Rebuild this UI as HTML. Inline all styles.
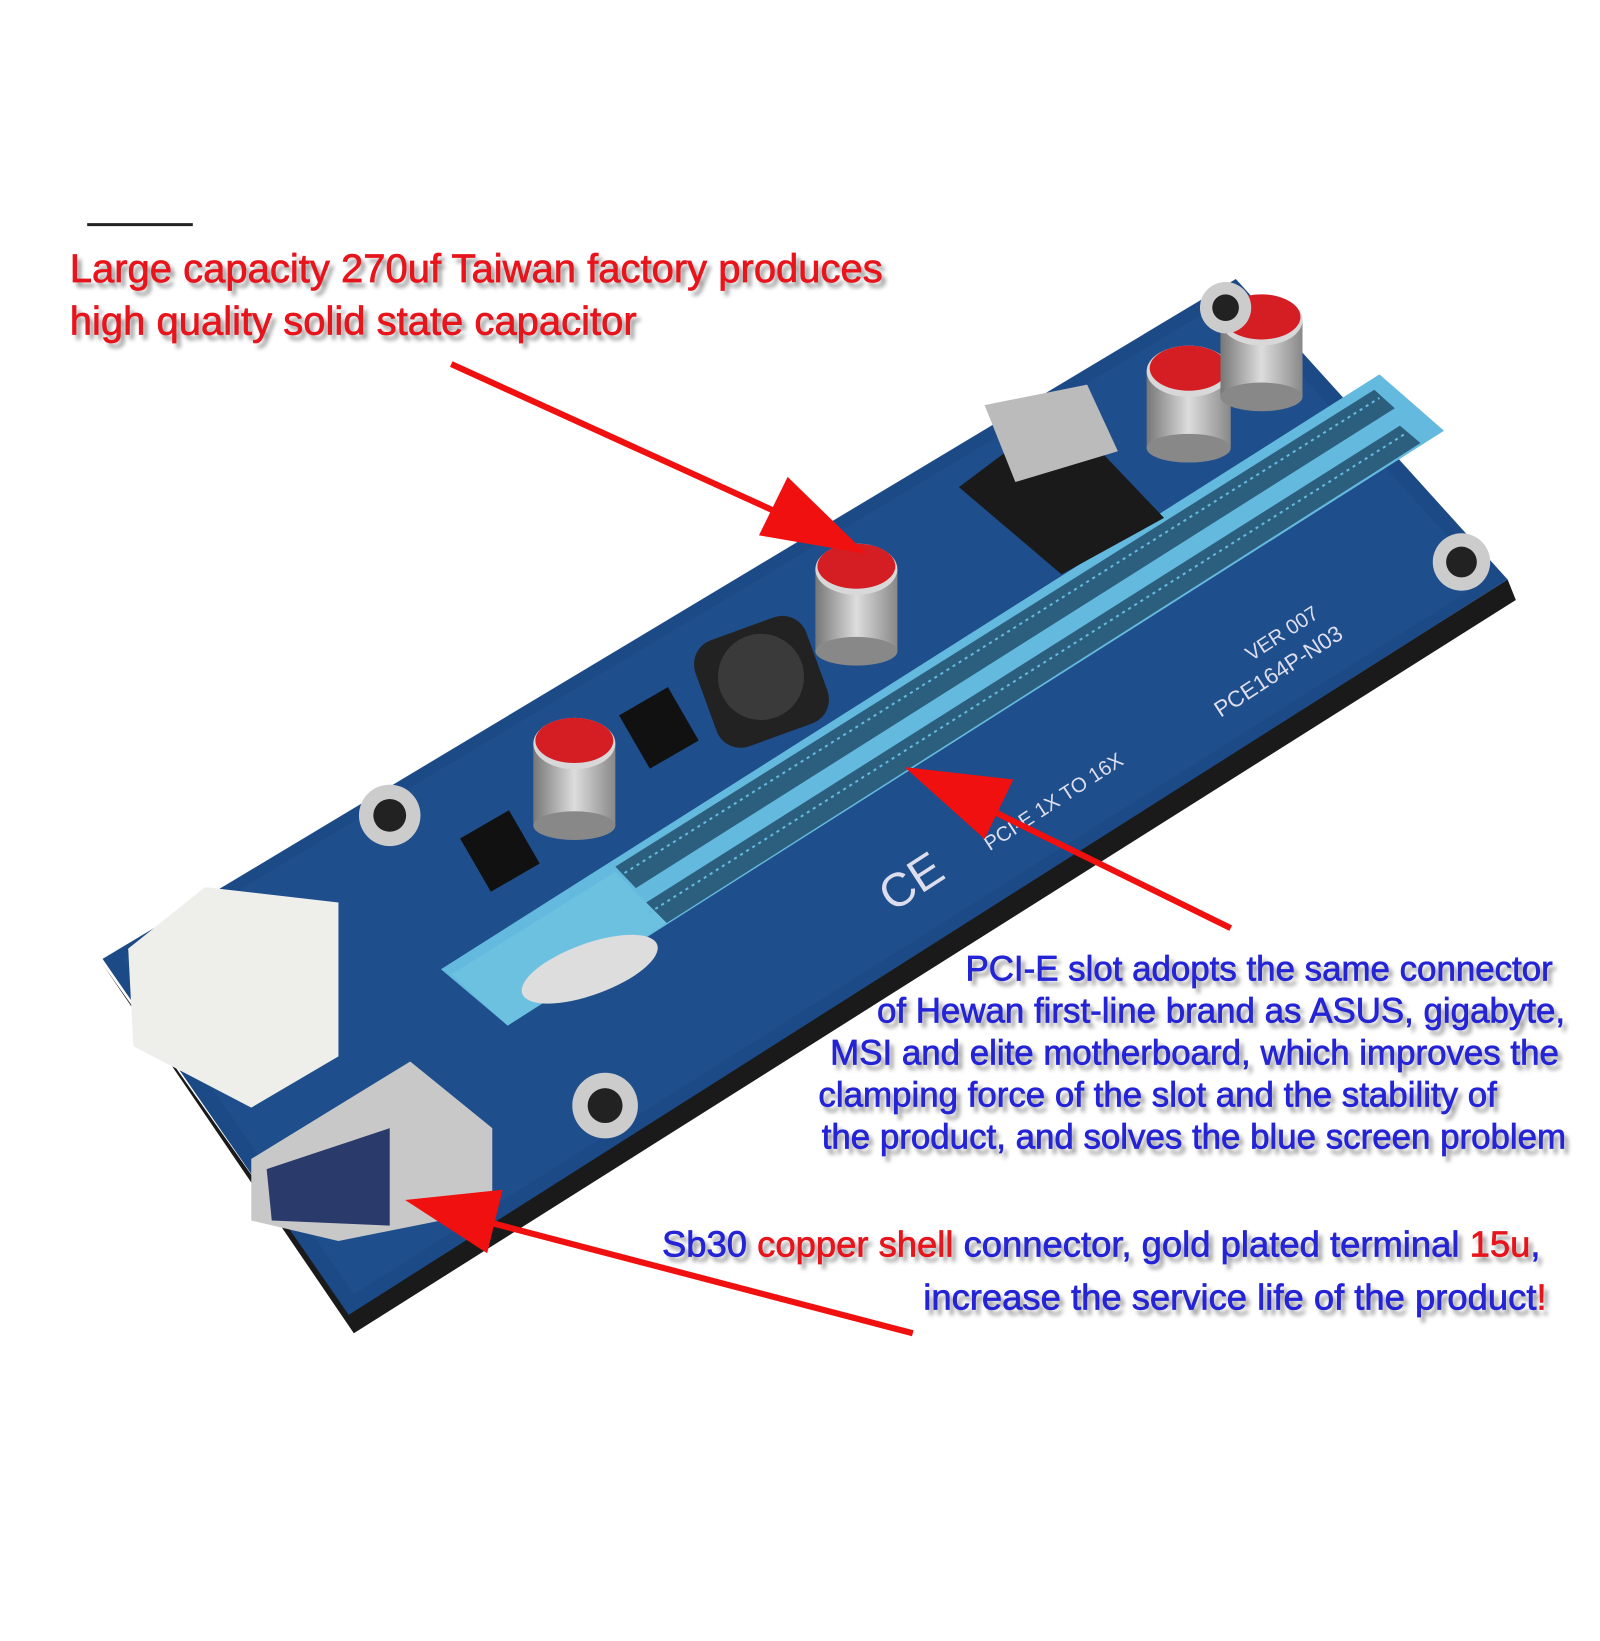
<!DOCTYPE html>
<html><head><meta charset="utf-8"><style>
html,body{margin:0;padding:0;background:#fff;}
body{width:1600px;height:1600px;position:relative;overflow:hidden;font-family:"Liberation Sans",sans-serif;}
#w{position:absolute;left:0;top:0;width:1600px;height:1600px;transform:scale(1.0256);transform-origin:0 0;}
.t{position:absolute;font-size:34px;line-height:1;white-space:nowrap;text-shadow:4px 5px 4px rgba(0,0,0,0.45);-webkit-text-stroke:0.7px currentColor;}
.r{color:#e8141c;}
.b{color:#2424d6;}
.big{font-size:39px;}
</style></head><body><div id="w">
<svg width="1600" height="1600" style="position:absolute;left:0;top:0">
<defs>
<linearGradient id="cap" x1="0" x2="1"><stop offset="0" stop-color="#777"/><stop offset="0.5" stop-color="#ddd"/><stop offset="1" stop-color="#888"/></linearGradient>
</defs>
<line x1="85" y1="219" x2="188" y2="219" stroke="#222" stroke-width="3"/>
<polygon points="100,940 345,1300 1478,585 1470,565 340,1280" fill="#1a1a1a"/>
<polygon points="100,935 1205,272 1470,565 340,1282" fill="#1c4a86"/>
<polygon points="120,935 1200,290 1450,565 345,1262" fill="#20518f" opacity="0.6"/>
<polygon points="430,945 1345,365 1408,420 495,1000" fill="#64bade"/>
<polygon points="600,845 1340,380 1360,398 620,866" fill="#2c5f7e"/>
<polygon points="630,880 1365,415 1385,432 650,900" fill="#2c5f7e"/>
<polygon points="440,950 600,850 650,900 495,1000" fill="#6cc0e0"/>
<g stroke="#64bade" stroke-width="2" stroke-dasharray="3 4">
<line x1="603" y1="855" x2="1345" y2="388"/>
<line x1="633" y1="890" x2="1370" y2="423"/>
</g>
<ellipse cx="575" cy="945" rx="70" ry="25" fill="#ddd" transform="rotate(-20 575 945)"/>
<polygon points="935,475 1035,400 1135,505 1035,560" fill="#1a1a1a"/>
<polygon points="960,395 1060,375 1090,440 990,470" fill="#bbb"/>
<rect x="685" y="610" width="115" height="110" rx="25" fill="#222" transform="rotate(-20 742 665)"/>
<circle cx="742" cy="660" r="42" fill="#3a3a3a"/>
<rect x="615" y="680" width="55" height="60" fill="#111" transform="rotate(-30 642 710)"/>
<rect x="460" y="800" width="55" height="60" fill="#111" transform="rotate(-30 487 830)"/>
<g>
<rect x="795" y="555" width="80" height="80" fill="url(#cap)"/><ellipse cx="835" cy="635" rx="40" ry="14" fill="#888"/><ellipse cx="835" cy="555" rx="40" ry="25" fill="#d8d8d8"/><ellipse cx="835" cy="552" rx="38" ry="22" fill="#d41e24"/>
<rect x="520" y="725" width="80" height="80" fill="url(#cap)"/><ellipse cx="560" cy="805" rx="40" ry="14" fill="#888"/><ellipse cx="560" cy="725" rx="40" ry="25" fill="#d8d8d8"/><ellipse cx="560" cy="722" rx="38" ry="22" fill="#d41e24"/>
<rect x="1118" y="362" width="82" height="75" fill="url(#cap)"/><ellipse cx="1159" cy="437" rx="41" ry="14" fill="#888"/><ellipse cx="1159" cy="362" rx="41" ry="25" fill="#d8d8d8"/><ellipse cx="1159" cy="359" rx="38" ry="22" fill="#d41e24"/>
<rect x="1190" y="312" width="80" height="75" fill="url(#cap)"/><ellipse cx="1230" cy="387" rx="40" ry="14" fill="#888"/><ellipse cx="1230" cy="312" rx="40" ry="25" fill="#d8d8d8"/><ellipse cx="1230" cy="309" rx="38" ry="22" fill="#d41e24"/>
</g>
<circle cx="380" cy="795" r="30" fill="#ccc"/><circle cx="380" cy="795" r="16" fill="#222"/>
<circle cx="590" cy="1078" r="32" fill="#ccc"/><circle cx="590" cy="1078" r="17" fill="#222"/>
<circle cx="1425" cy="548" r="28" fill="#ccc"/><circle cx="1425" cy="548" r="15" fill="#222"/>
<circle cx="1195" cy="300" r="25" fill="#ccc"/><circle cx="1195" cy="300" r="13" fill="#222"/>
<polygon points="125,925 200,865 330,880 330,1030 245,1080 130,1020" fill="#eeeeea"/>
<polygon points="245,1130 400,1035 480,1100 480,1180 330,1210 245,1190" fill="#c8c8c8"/>
<polygon points="260,1140 380,1100 380,1195 265,1190" fill="#2a3a6a"/>
<text x="1190" y="700" fill="#dde" font-size="22" transform="rotate(-33 1190 700)">PCE164P-N03</text>
<text x="1220" y="645" fill="#dde" font-size="20" transform="rotate(-33 1220 645)">VER 007</text>
<text x="965" y="830" fill="#dde" font-size="20" transform="rotate(-33 965 830)">PCI-E 1X TO 16X</text>
<text x="870" y="890" fill="#dde" font-size="46" transform="rotate(-33 870 890)">CE</text>
<g stroke="#f01010" stroke-width="6" fill="#f01010">
<line x1="440" y1="355" x2="770" y2="505"/>
<polygon points="845,540 740,522 768,465" stroke="none"/>
<line x1="1200" y1="905" x2="950" y2="782"/>
<polygon points="882,748 988,760 960,818" stroke="none"/>
<line x1="890" y1="1300" x2="470" y2="1190"/>
<polygon points="395,1170 490,1160 475,1222" stroke="none"/>
</g>
</svg>
<div class="t r big" style="left:68px;top:243px">Large capacity 270uf Taiwan factory produces</div>
<div class="t r big" style="left:68px;top:294px">high quality solid state capacitor</div>
<div class="t b" style="right:86px;top:928px">PCI-E slot adopts the same connector</div>
<div class="t b" style="right:74px;top:969px">of Hewan first-line brand as ASUS, gigabyte,</div>
<div class="t b" style="right:80px;top:1010px">MSI and elite motherboard, which improves the</div>
<div class="t b" style="left:798px;top:1051px">clamping force of the slot and the stability of</div>
<div class="t b" style="right:73px;top:1092px">the product, and solves the blue screen problem</div>
<div class="t b" style="right:98px;top:1196px;font-size:35.5px">Sb30 <span class="r">copper shell</span> connector, gold plated terminal <span class="r">15u</span>,</div>
<div class="t b" style="right:92px;top:1248px;font-size:35.5px">increase the service life of the product<span class="r">!</span></div>
</div></body></html>
